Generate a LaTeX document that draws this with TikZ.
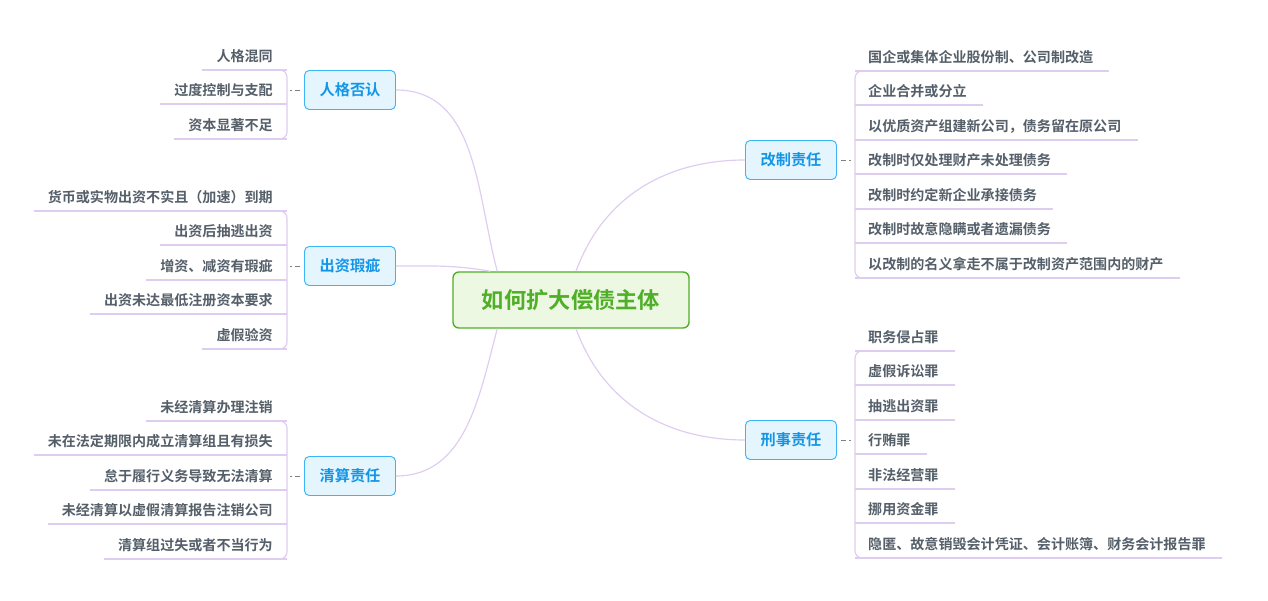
\documentclass[tikz,border=0pt]{standalone}
\usepackage{fontspec}
\newfontfamily\cjk{Noto Sans CJK SC}[BoldFont={Noto Sans CJK SC Bold}]
\usetikzlibrary{calc}
\definecolor{linkpurple}{RGB}{222, 205, 240}
\definecolor{leafgray}{RGB}{85, 95, 105}
\definecolor{branchblue}{RGB}{20, 150, 230}
\definecolor{branchfill}{RGB}{229, 245, 254}
\definecolor{branchline}{RGB}{60, 180, 245}
\definecolor{rootgreen}{RGB}{80, 175, 40}
\definecolor{rootfill}{RGB}{236, 248, 225}

\tikzset{
  leaf/.style={font=\cjk\bfseries\fontsize{12pt}{14pt}\selectfont, text=leafgray, inner sep=0pt},
  branch/.style={draw=branchline, fill=branchfill, rounded corners=4pt, line width=0.8pt,
    minimum width=91*0.03cm, minimum height=39*0.03cm, text=branchblue,
    font=\cjk\bfseries\fontsize{13pt}{15pt}\selectfont},
  link/.style={draw=linkpurple, line width=1pt},
  dashlink/.style={draw=gray, line width=0.8pt, dash pattern=on 4pt off 3pt},
}

\begin{document}
\begin{tikzpicture}[x=0.03cm, y=-0.03cm]
\useasboundingbox (0,0) rectangle (1268,601);

\node[draw=rootgreen, fill=rootfill, rounded corners=5pt, line width=1.2pt,
  minimum width=236*0.03cm, minimum height=56*0.03cm, text=rootgreen,
  font=\cjk\bfseries\fontsize{19pt}{22pt}\selectfont] (root) at (571,300) {如何扩大偿债主体};

\node[branch] (rg) at (350,90) {人格否认};
\node[branch] (cz) at (350,266) {出资瑕疵};
\node[branch] (qs) at (350,476) {清算责任};
\node[branch] (gz) at (791,160) {改制责任};
\node[branch] (xs) at (791,440) {刑事责任};

% main links
\draw[link] (rg.east) to[out=0, in=105] ($(root.north west)+(45,0)$);
\draw[link] (cz.east) to[out=0, in=170] ($(root.north west)+(38,0)$);
\draw[link] (qs.east) to[out=0, in=-105] ($(root.south west)+(45,0)$);
\draw[link] (gz.west) to[out=180, in=70] ($(root.north)+(5,0)$);
\draw[link] (xs.west) to[out=180, in=-70] ($(root.south)+(5,0)$);

% left leaves
\foreach \t/\y/\n in {人格混同/56/rg1, 过度控制与支配/90/rg2, 资本显著不足/125/rg3,
  货币或实物出资不实且（加速）到期/197/cz1, 出资后抽逃出资/231/cz2, 增资、减资有瑕疵/266/cz3,
  出资未达最低注册资本要求/300/cz4, 虚假验资/335/cz5,
  未经清算办理注销/407/qs1, 未在法定期限内成立清算组且有损失/441/qs2, 怠于履行义务导致无法清算/476/qs3,
  未经清算以虚假清算报告注销公司/510/qs4, 清算组过失或者不当行为/545/qs5}{
  \node[leaf, anchor=east] (\n) at (273,\y) {\t};
  \draw[link] ($(\n.west)+(-14,14)$) -- (287,\y+14);
}
\draw[link, rounded corners=6pt] (270,70) -- (287,70) -- (287,139) -- (270,139);
\draw[link, rounded corners=6pt] (270,211) -- (287,211) -- (287,349) -- (270,349);
\draw[link, rounded corners=6pt] (270,421) -- (287,421) -- (287,559) -- (270,559);
\foreach \b in {rg, cz, qs}
  \draw[dashlink] ($(\b.west)+(-4,0)$) -- ($(\b.west)+(-14,0)$);

% right leaves
\foreach \t/\y/\n in {国企或集体企业股份制、公司制改造/57/gz1, 企业合并或分立/91/gz2,
  以优质资产组建新公司，债务留在原公司/126/gz3, 改制时仅处理财产未处理债务/160/gz4,
  改制时约定新企业承接债务/195/gz5, 改制时故意隐瞒或者遗漏债务/229/gz6,
  以改制的名义拿走不属于改制资产范围内的财产/264/gz7,
  职务侵占罪/337/xs1, 虚假诉讼罪/371/xs2, 抽逃出资罪/406/xs3, 行贿罪/440/xs4,
  非法经营罪/475/xs5, 挪用资金罪/509/xs6, 隐匿、故意销毁会计凭证、会计账簿、财务会计报告罪/544/xs7}{
  \node[leaf, anchor=west] (\n) at (868,\y) {\t};
  \draw[link] (855,\y+14) -- ($(\n.east)+(16,14)$);
}
\draw[link, rounded corners=6pt] (872,71) -- (855,71) -- (855,278) -- (872,278);
\draw[link, rounded corners=6pt] (872,351) -- (855,351) -- (855,558) -- (872,558);
\foreach \b in {gz, xs}
  \draw[dashlink] ($(\b.east)+(4,0)$) -- ($(\b.east)+(14,0)$);
\end{tikzpicture}
\end{document}
